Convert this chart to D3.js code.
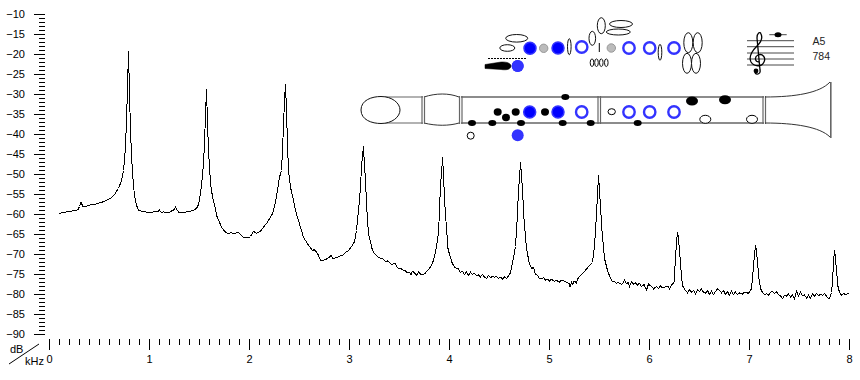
<!DOCTYPE html>
<meta charset="utf-8">
<script src="https://d3js.org/d3.v7.min.js"></script>
<style>
  html, body { margin: 0; background: #fff; }
  svg { display: block; font-family: 'Liberation Sans', Arial, sans-serif; }
  .tick line, .curve { shape-rendering: crispEdges; }
</style>
<body>
<div id="my_dataviz"></div>
<script>

// tick labels
var dbMajor = [-10,-15,-20,-25,-30,-35,-40,-45,-50,-55,-60,-65,-70,-75,-80,-85,-90];
var khzMajor = [0,1,2,3,4,5,6,7,8];
var noteName = "A5";
var noteFreq = "784";

// spectrum: [kHz, dB]
var spectrum = [
[.10,-59.9],[.12,-59.5],[.13,-59.4],[.16,-59.4],[.21,-59.2],[.26,-59],[.285,-58.8],[.30,-58],[.315,-57],[.325,-57.5],[.335,-58],
[.37,-57.9],[.41,-57.6],[.46,-57.4],[.50,-57.1],[.54,-56.8],[.58,-56.3],[.62,-55.8],[.65,-55],[.67,-54.2],[.69,-53.5],[.71,-52.2],
[.725,-51],[.74,-49],[.75,-46.5],[.76,-42.8],[.77,-36.5],[.78,-28.5],[.79,-19.25],[.80,-29.75],[.81,-39],[.82,-45.2],[.83,-49.5],
[.84,-52.7],[.85,-55.2],[.86,-56.5],[.87,-57.7],[.89,-58.9],[.92,-59.2],[.97,-59.4],[1.02,-59.4],[1.07,-59.3],[1.09,-59.2],[1.10,-58.9],
[1.12,-59.5],[1.14,-59.3],[1.16,-59.6],[1.18,-59.4],[1.20,-59.5],[1.22,-59.1],[1.24,-58.9],[1.26,-58.2],[1.28,-59],[1.295,-59.5],
[1.32,-59.4],[1.36,-59.4],[1.41,-59.2],[1.45,-58.8],[1.475,-58.3],[1.49,-57.5],[1.505,-55.5],[1.52,-52.8],[1.53,-50],[1.54,-47.5],
[1.55,-42],[1.56,-35.2],[1.57,-28.75],[1.58,-37],[1.59,-44],[1.60,-48],[1.61,-52],[1.62,-54],[1.635,-56.2],[1.65,-57.6],
[1.675,-60.5],[1.70,-62],[1.725,-63.3],[1.75,-64.2],[1.78,-64.7],[1.81,-64.6],[1.86,-64.7],[1.89,-64.4],[1.91,-65],[1.94,-65.8],
[1.99,-65.8],[2.01,-65.5],[2.04,-64.2],[2.07,-64.7],[2.09,-64.5],[2.11,-64.2],[2.14,-63.2],[2.18,-61.9],[2.23,-59.8],[2.26,-56.9],
[2.28,-54],[2.30,-50.7],[2.32,-49],[2.33,-44],[2.34,-37.7],[2.35,-31.5],[2.36,-27.5],[2.37,-34],[2.38,-42.7],[2.39,-49],[2.41,-53.2],
[2.44,-56.5],[2.46,-59],[2.49,-61.5],[2.54,-65.7],[2.59,-67.7],[2.63,-69],[2.645,-68.8],[2.67,-69.4],[2.69,-70.2],[2.71,-71.5],
[2.76,-71.3],[2.79,-70.8],[2.82,-70.2],[2.83,-71],[2.85,-70.9],[2.88,-70.7],[2.90,-70.4],[2.93,-70.2],[2.96,-69.5],[2.99,-69],[3.02,-68],
[3.05,-66.8],[3.07,-64],[3.09,-59],[3.11,-53.2],[3.12,-48],[3.13,-45.5],[3.14,-43],[3.15,-48],[3.16,-51],[3.17,-57.5],[3.19,-64.8],
[3.225,-68.5],[3.25,-69.8],[3.28,-70.5],[3.31,-71],[3.33,-71],[3.36,-71.8],[3.38,-71.6],[3.40,-72],[3.42,-72.6],[3.44,-72.3],[3.46,-72.3],
[3.475,-73.2],[3.49,-73.5],[3.52,-73.6],[3.54,-74],[3.56,-74.1],[3.58,-74.6],[3.60,-74.4],[3.615,-75],[3.63,-74.2],[3.65,-74.6],[3.67,-75.2],
[3.69,-74.4],[3.71,-74.9],[3.74,-75],[3.76,-74.6],[3.78,-74],[3.80,-73.5],[3.83,-72.2],[3.86,-69.5],[3.89,-64.7],[3.90,-59],[3.91,-52.5],
[3.92,-50],[3.93,-45.75],[3.94,-50],[3.95,-56],[3.96,-60],[3.985,-68.5],[4.0,-70],[4.025,-72],[4.05,-73.2],[4.07,-73.5],[4.09,-73.6],
[4.11,-74.5],[4.13,-74.2],[4.15,-75],[4.17,-74.4],[4.19,-75.2],[4.21,-74.4],[4.23,-75],[4.25,-74.7],[4.27,-75.3],[4.29,-75.1],[4.31,-75.6],
[4.33,-75],[4.35,-75.7],[4.37,-76],[4.39,-75.2],[4.41,-75.8],[4.43,-75.4],[4.45,-75.7],[4.47,-75.5],[4.49,-76],[4.51,-75.7],[4.53,-76.1],
[4.55,-75.6],[4.57,-76],[4.59,-75.4],[4.61,-74.5],[4.635,-71.5],[4.66,-68],[4.675,-62],[4.69,-54],[4.70,-51],[4.71,-47],[4.72,-50],[4.73,-54],
[4.745,-61],[4.77,-68.5],[4.80,-72.5],[4.825,-73.5],[4.84,-73.2],[4.86,-75],[4.88,-75.2],[4.90,-76],[4.92,-76],[4.94,-75.8],[4.96,-76.4],
[4.98,-76.2],[5.0,-76.6],[5.02,-76.2],[5.05,-76.7],[5.07,-76.5],[5.10,-76.9],[5.12,-76.4],[5.15,-76.7],[5.17,-77],[5.195,-77.2],[5.205,-78.2],
[5.22,-76.9],[5.235,-77.5],[5.245,-76.6],[5.27,-77.1],[5.285,-76],[5.31,-75.2],[5.35,-74.3],[5.38,-73.3],[5.43,-72],[5.45,-68],
[5.47,-60],[5.48,-55],[5.49,-50.25],[5.50,-54],[5.525,-64],[5.55,-71],[5.58,-74],[5.61,-76],[5.63,-76.8],[5.65,-76.7],[5.67,-77.2],
[5.69,-77],[5.72,-77.5],[5.74,-77],[5.75,-76.4],[5.77,-77.3],[5.785,-77],[5.80,-78],[5.82,-76.9],[5.84,-77.4],[5.86,-77.1],[5.88,-77.6],
[5.90,-77.2],[5.92,-78],[5.945,-77.5],[5.97,-78.9],[5.99,-77.4],[6.02,-78],[6.04,-78.6],[6.07,-78],[6.09,-78.5],[6.11,-77.9],[6.13,-78.3],
[6.16,-78.1],[6.19,-78],[6.20,-78.7],[6.22,-77.6],[6.245,-77],[6.26,-71],[6.27,-67],[6.28,-64.4],[6.29,-66],[6.31,-72],[6.32,-75.8],
[6.335,-78],[6.36,-79],[6.38,-79.6],[6.40,-78.8],[6.42,-79.4],[6.44,-79],[6.46,-79.8],[6.48,-78.8],[6.50,-79.3],[6.52,-78.6],[6.54,-79.5],
[6.56,-79.7],[6.58,-79],[6.60,-80],[6.62,-79.2],[6.64,-80],[6.66,-79.2],[6.68,-78.6],[6.70,-79],[6.72,-79.6],[6.74,-79],[6.76,-80],
[6.78,-79.3],[6.80,-80.2],[6.82,-79.2],[6.84,-80],[6.86,-79.4],[6.88,-80],[6.90,-79.6],[6.93,-79.9],[6.95,-79.4],[6.99,-79.7],[7.02,-78.6],
[7.04,-73],[7.05,-70],[7.06,-67.7],[7.07,-69],[7.08,-72],[7.095,-76],[7.11,-78.5],[7.13,-79.5],[7.15,-80],[7.17,-79.8],[7.19,-80.2],[7.21,-79.4],
[7.23,-79.2],[7.25,-79.8],[7.27,-79.3],[7.29,-80],[7.31,-80.3],[7.33,-81],[7.35,-80.2],[7.37,-80.4],[7.39,-79.9],[7.41,-80.6],[7.43,-80.1],
[7.45,-81],[7.47,-79.2],[7.49,-80.3],[7.51,-79.4],[7.53,-80.3],[7.55,-80.1],[7.57,-80.9],[7.59,-80.2],[7.61,-80.9],[7.63,-79.8],[7.65,-80.4],
[7.67,-79.7],[7.69,-80.3],[7.71,-79.9],[7.73,-80.2],[7.75,-79.7],[7.77,-80.4],[7.79,-81],[7.80,-81],[7.82,-79.5],[7.83,-77],[7.84,-72],[7.85,-68.8],
[7.86,-71],[7.87,-74],[7.885,-78],[7.90,-79.5],[7.92,-80.2],[7.94,-79.8],[7.965,-80],[8.00,-79.6]
];

var margin = {top: 14, left: 49},
    width = 800,
    height = 320;

var svg = d3.select("#my_dataviz")
  .append("svg")
    .attr("width", 860)
    .attr("height", 380);

var x = d3.scaleLinear().domain([0, 8]).range([margin.left, margin.left + width]);
var y = d3.scaleLinear().domain([-90, -10]).range([margin.top + height, margin.top]);

// minus sign as in the original labels
function dbLabel(d) { return "\u2212" + Math.abs(d); }

//Y axis
svg.append("g")
  .attr("class", "axis")
  .attr("transform", "translate(45,0)")
  .call(d3.axisLeft(y).tickValues(d3.range(-90, -9)).tickSize(6).tickFormat(""));
svg.append("g")
  .attr("class", "axis")
  .attr("transform", "translate(45,0)")
  .call(d3.axisLeft(y).tickValues(dbMajor).tickSize(11).tickPadding(9).tickFormat(dbLabel));

//X axis
svg.append("g")
  .attr("class", "axis")
  .attr("transform", "translate(0,339)")
  .call(d3.axisBottom(x).tickValues(d3.range(0, 81).map(function(d) { return d / 10; })).tickSize(6).tickFormat(""));
svg.append("g")
  .attr("class", "axis")
  .attr("transform", "translate(0,339)")
  .call(d3.axisBottom(x).tickValues(khzMajor).tickSize(11).tickPadding(5).tickFormat(d3.format("d")));

svg.selectAll(".axis .domain").remove();
svg.selectAll(".axis text").style("font-size", "11px").attr("fill", "#000");
svg.selectAll(".axis line").attr("stroke", "#000");

// dB / kHz corner
svg.append("line").attr("x1", 9).attr("y1", 364).attr("x2", 39).attr("y2", 344)
  .attr("stroke", "#000");
svg.append("text").attr("x", 10).attr("y", 353).style("font-size", "11px").text("dB");
svg.append("text").attr("x", 25).attr("y", 365).style("font-size", "11px").text("kHz");

// spectrum line
var line = d3.line()
  .x(function(d) { return x(d[0]); })
  .y(function(d) { return y(d[1]); });

svg.append("path")
  .datum(spectrum)
  .attr("class", "curve")
  .attr("transform", "translate(0.5,0.5)")
  .attr("fill", "none")
  .attr("stroke", "#000")
  .attr("stroke-width", 1)
  .attr("d", line);

// fingering picture
var blue = "#0000ff", ring = "#3333ff", grey = "#666";
var pic = svg.append("g");

function oval(cx, cy, rx, ry, fill, stroke, sw) {
  pic.append("ellipse")
    .attr("cx", cx).attr("cy", cy).attr("rx", rx).attr("ry", ry)
    .attr("fill", fill).attr("stroke", stroke || "none").attr("stroke-width", sw || 1);
}
function seg(x1, y1, x2, y2, col, sw) {
  return pic.append("line")
    .attr("x1", x1).attr("y1", y1).attr("x2", x2).attr("y2", y2)
    .attr("stroke", col).attr("stroke-width", sw || 1);
}
function curve(d, col, sw, fill) {
  pic.append("path").attr("d", d)
    .attr("fill", fill || "none").attr("stroke", col).attr("stroke-width", sw || 1);
}

// tube
seg(385, 97, 423, 97, grey, 1.2); seg(385, 123, 423, 123, grey, 1.2);
seg(461, 97, 764, 97, grey, 1.3); seg(461, 123, 764, 123, grey, 1.3);
curve("M361 110 C361 100 372 96.5 381 96.5 C392 96.5 400 103 400 110 C400 117 392 123.5 381 123.5 C372 123.5 361 120 361 110", "#111", 1, "#fff");
curve("M424 97 C436 93 449 93 459 97", "#333", 1);
curve("M424 123 C436 126 449 126 459 123", "#333", 1);
[[422, 424.5], [459.5, 462], [598, 600.5], [763, 765.5]].forEach(function(p) {
  seg(p[0], 96, p[0], 124, grey, 1.2); seg(p[1], 96, p[1], 124, grey, 1.2);
});
// bell
curve("M765 97 C795 97 820 93 830 82", "#333", 1);
curve("M765 123 C795 123 820 127 830 137", "#333", 1);
seg(830.8, 82, 830.8, 138, grey, 1.6);

// small black keys on the tube
[[472,123],[492.3,123],[521,123],[562.7,123],[590.7,123],[637.7,123],[565.3,97]].forEach(function(p) {
  oval(p[0], p[1], 4, 3, "#000");
});
[[497.7,112],[506,117.5],[515.7,112],[545,112]].forEach(function(p) {
  oval(p[0], p[1], 4, 3.7, "#000");
});
oval(692, 101, 6, 4.5, "#000"); oval(725, 99.7, 6, 4.5, "#000");
oval(705.3, 119.3, 5.5, 4, "#fff", "#000"); oval(752, 119.3, 5.5, 4, "#fff", "#000");
oval(470.7, 135.7, 3.5, 3.5, "#fff", "#000"); oval(611.7, 111.7, 3.7, 3, "#fff", "#000");

// tone holes
[[529.7,112],[558,112],[530,48.3],[558,48]].forEach(function(p) { oval(p[0], p[1], 6, 6, blue, ring, 1.5); });
[[581.7,112],[629,112],[649.7,112],[674,112],[581.7,47],[629,48],[649.7,48],[674,48]].forEach(function(p) {
  oval(p[0], p[1], 5.7, 5.7, "#fff", ring, 2.4);
});
oval(517.7, 135.3, 6, 6, ring); oval(517.7, 66, 6, 6, ring);
oval(543.7, 48.3, 4.2, 4.2, "#bbb", "#999"); oval(611.3, 48, 4.2, 4.2, "#bbb", "#999");

// upper diagram keys
[[516.7,38.3,11,3.8],[507.3,48,7.5,3.3],[569.3,46.7,1.8,8],[592.3,38.3,3.3,7],[601.3,25.7,4,8],[621,24,11.5,3.5],[618.3,32,12,3],
 [660,52.3,1.8,8],[592,62.7,1.8,3.8],[596.5,62.7,1.8,3.8],[601.3,62.7,1.8,3.8],[606.3,62.7,1.8,3.8],
 [688.3,42.7,4.5,10],[697.7,42.7,4.5,10],[687,63.3,4.5,10],[696,63.3,4.5,10]].forEach(function(p) {
  oval(p[0], p[1], p[2], p[3], "#fff", "#111");
});
seg(599.3, 43, 599.3, 52, "#000");
seg(488, 58.5, 527, 58.5, "#000").attr("stroke-dasharray", "2,1");
curve("M485 64.5 L501 62 C508 61.5 511 64 511 66 C511 69 507 70.5 501 69.5 L485 68.5 Z", "#000", 0.5, "#000");
oval(517.7, 66, 6, 6, ring);

// staff with the note
[40.7, 46.7, 53, 59, 65].forEach(function(sy) { seg(747, sy, 794, sy, "#333", 0.9); });
seg(769.3, 34.7, 786.7, 34.7, "#333", 0.9);
oval(778, 34.7, 3.5, 2.5, "#000");
curve("M759 62 C755 62 754 57 758 55 C763 53 766 58 764 62 C762 67 754 67 751 62 C748 56 753 50 757 46 C761 42 763 38 761 34 C760 31 757 33 757 38 L760 70 C761 74 757 75 755 73", "#000", 1.3);
oval(756, 71, 2.4, 2.4, "#000");
svg.append("text").attr("x", 812.5).attr("y", 45).style("font-size", "10.5px").attr("fill", "#222").text(noteName);
svg.append("text").attr("x", 812.5).attr("y", 59.5).style("font-size", "10.5px").attr("fill", "#222").text(noteFreq);

</script>
</body>
